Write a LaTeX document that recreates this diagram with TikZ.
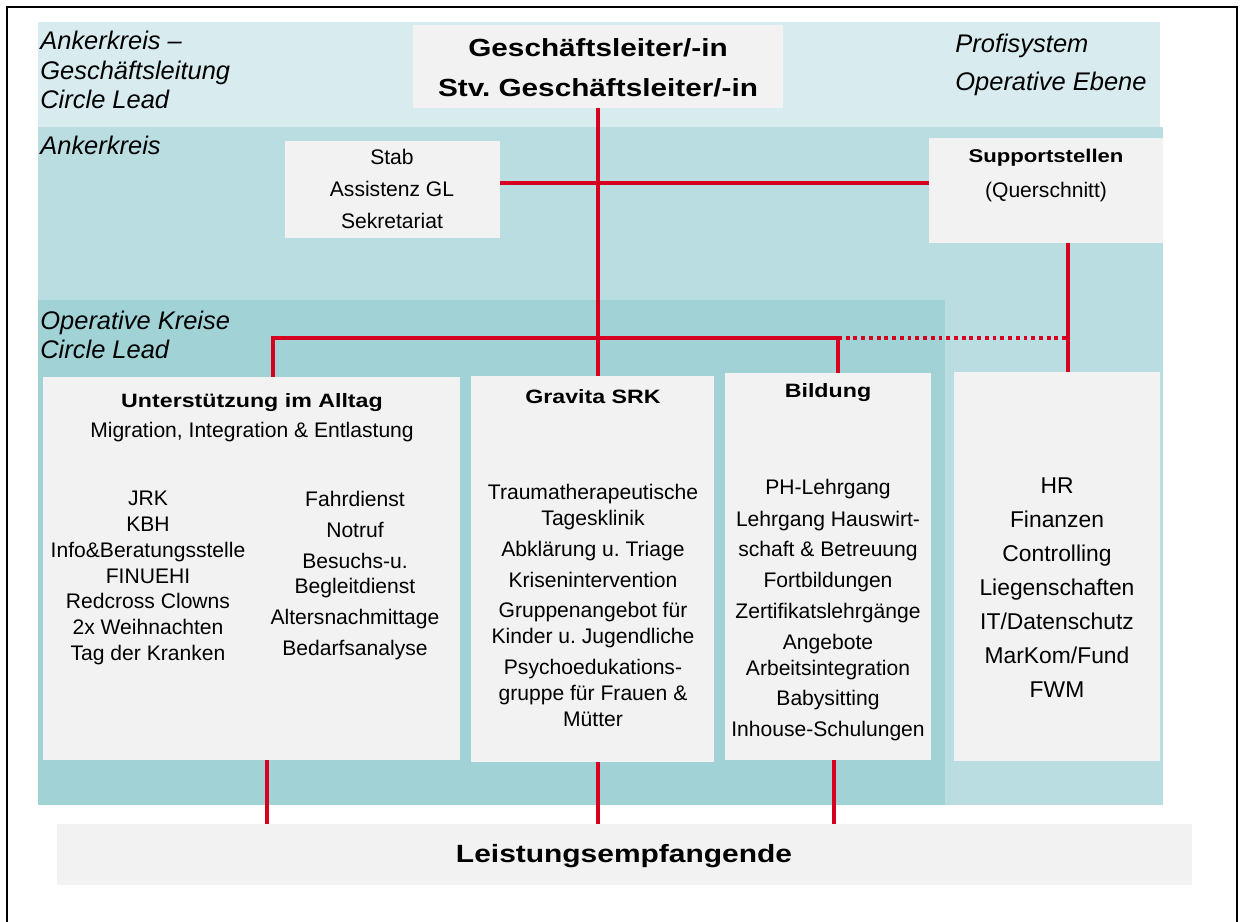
\documentclass[tikz,border=0pt]{standalone}
\usepackage{fontspec}
\setmainfont{Liberation Sans}
\newfontfamily\widesf{Liberation Sans}[FakeStretch=1.2]
\usetikzlibrary{fit}
\frenchspacing

\definecolor{bandlight}{RGB}{216,236,239}
\definecolor{bandmid}{RGB}{185,221,225}
\definecolor{banddark}{RGB}{160,210,214}
\definecolor{boxgray}{RGB}{242,242,242}
\definecolor{srkred}{RGB}{214,0,32}

\tikzset{
  box/.style={fill=boxgray, inner sep=0pt},
  link/.style={draw=srkred, line width=2.3pt},
  dots/.style={draw=srkred, line width=2.3pt, dash pattern=on 2.2pt off 2.2pt},
  circlelabel/.style={anchor=west, align=left, inner sep=0pt, font=\itshape\fontsize{14.5}{17}\selectfont},
  head/.style={inner sep=0pt, font=\widesf\bfseries\fontsize{11}{13}\selectfont},
  items/.style={inner sep=0pt, align=center, font=\fontsize{12}{14.7}\selectfont},
}

\begin{document}
\begin{tikzpicture}[x=0.02cm, y=-0.02cm]
  \useasboundingbox (0,0) rectangle (1241,922);
  \draw[line width=.8pt] (7,922) -- (7,7) -- (1237,7) -- (1237,922);

  \fill[bandlight] (38,22) rectangle (1160,127);
  \fill[bandmid] (38,127) rectangle (1163,805);
  \fill[banddark] (38,300) rectangle (945,805);

  \node[box, fit={(413,25) (783,108)}] (gl) {};
  \node[box, fit={(285,141) (500,238)}] (stab) {};
  \node[box, fit={(929,138) (1163,243)}] (support) {};
  \node[box, fit={(43,377) (460,760)}] (alltag) {};
  \node[box, fit={(471,376) (714,762)}] (gravita) {};
  \node[box, fit={(725,373) (931,760)}] (bildung) {};
  \node[box, fit={(954,372) (1160,761)}] (supportlist) {};
  \node[box, fit={(57,824) (1192,885)}] (empfang) {};

  \coordinate (hub) at (598,183);
  \coordinate (opleft) at (273,338);
  \coordinate (opright) at (838,338);
  \coordinate (supdrop) at (1068,338);
  \coordinate (drop1) at (267,790);
  \coordinate (drop2) at (598,790);
  \coordinate (drop3) at (834,790);

  \draw[link] (gl.south -| hub) -- (gravita.north -| hub);
  \draw[link] (stab.east |- hub) -- (support.west |- hub);
  \draw[link] (alltag.north -| opleft) -- (opleft) -- (opright) -- (bildung.north -| opright);
  \draw[dots] (opright) -- (supdrop);
  \draw[link] (support.south -| supdrop) -- (supportlist.north -| supdrop);
  \draw[link] (alltag.south -| drop1) -- (empfang.north -| drop1);
  \draw[link] (gravita.south -| drop2) -- (empfang.north -| drop2);
  \draw[link] (bildung.south -| drop3) -- (empfang.north -| drop3);

  \node[circlelabel] (lbl-gl) at (40,70) {Ankerkreis –\\Geschäftsleitung\\Circle Lead};
  \node[circlelabel] (lbl-anker) at (40,145) {Ankerkreis};
  \node[circlelabel, font=\itshape\fontsize{14.5}{16.4}\selectfont] (lbl-op) at (40,334.5) {Operative Kreise\\Circle Lead};
  \node[circlelabel, font=\itshape\fontsize{14.5}{21.5}\selectfont] (lbl-profi) at (955,65) {Profisystem\\Operative Ebene};

  \node[head, align=center, font=\widesf\bfseries\fontsize{14.1}{22.7}\selectfont] (gl-text) at (598,68) {Geschäftsleiter/-in\\Stv. Geschäftsleiter/-in};
  \node[items, font=\fontsize{12}{18.1}\selectfont] (stab-text) at (392,189) {Stab\\Assistenz GL\\Sekretariat};
  \node[head, font=\widesf\bfseries\fontsize{10.5}{13}\selectfont] (support-head) at (1046,158) {Supportstellen};
  \node[items] (support-sub) at (1046,192) {(Querschnitt)};

  \node[head] (alltag-head) at (252,403) {Unterstützung im Alltag};
  \node[items] (alltag-sub) at (252,432) {Migration, Integration \& Entlastung};
  \node[items] (alltag-left) at (148,578) {JRK\\KBH\\Info\&Beratungsstelle\\FINUEHI\\Redcross Clowns\\2x Weihnachten\\Tag der Kranken};
  \node[items] (alltag-right) at (355,575.5) {Fahrdienst\\[2.8pt]Notruf\\[2.8pt]Besuchs-u.\\Begleitdienst\\[2.8pt]Altersnachmittage\\[2.8pt]Bedarfsanalyse};

  \node[head] (gravita-head) at (593,397) {Gravita SRK};
  \node[items] (gravita-text) at (593,605.5) {Traumatherapeutische\\Tagesklinik\\[2.8pt]Abklärung u. Triage\\[2.8pt]Krisenintervention\\[2.8pt]Gruppenangebot für\\Kinder u. Jugendliche\\[2.8pt]Psychoedukations-\\gruppe für Frauen \&\\Mütter};

  \node[head] (bildung-head) at (828,393) {Bildung};
  \node[items] (bildung-text) at (828,610) {PH-Lehrgang\\[3.4pt]Lehrgang Hauswirt-\\[2.8pt]schaft \& Betreuung\\[2.8pt]Fortbildungen\\[2.8pt]Zertifikatslehrgänge\\[2.8pt]Angebote\\Arbeitsintegration\\[2.8pt]Babysitting\\[2.8pt]Inhouse-Schulungen};

  \node[items, font=\fontsize{13}{19.3}\selectfont] (supportlist-text) at (1057,587.5) {HR\\Finanzen\\Controlling\\Liegenschaften\\IT/Datenschutz\\MarKom/Fund\\FWM};

  \node[head, font=\widesf\bfseries\fontsize{14.2}{17}\selectfont] (empfang-text) at (624,856) {Leistungsempfangende};
\end{tikzpicture}
\end{document}
